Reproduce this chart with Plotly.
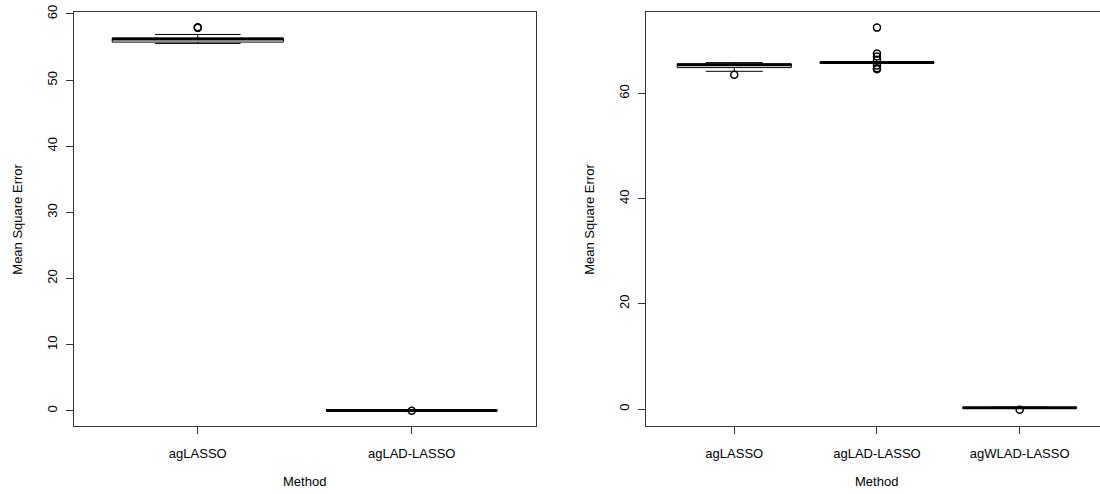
import plotly.graph_objects as go

# ---- data ----
methods_left = ["agLASSO", "agLAD-LASSO"]
left_q1 = [55.75, 0.03]
left_median = [56.2, 0.05]
left_q3 = [56.35, 0.07]
left_lower = [55.55, 0.02]
left_upper = [56.9, 0.08]
left_outliers = [[58.0, 57.9], [0.0]]

methods_right = ["agLASSO", "agLAD-LASSO", "agWLAD-LASSO"]
right_q1 = [64.9, 65.75, 0.2]
right_median = [65.45, 65.85, 0.25]
right_q3 = [65.6, 65.9, 0.3]
right_lower = [64.2, 65.7, 0.15]
right_upper = [65.85, 65.95, 0.35]
right_outliers = [[63.55], [72.5, 67.6, 67.0, 66.4, 65.3, 64.8, 64.6], [-0.15]]

left_yticks = [0, 10, 20, 30, 40, 50, 60]
right_yticks = [0, 20, 40, 60]

FONT = "Liberation Sans, Arial, sans-serif"
FS = 13
BOXW = 0.8
FRAME = "#333333"

fig = go.Figure()


def add_panel(methods, q1, med, q3, lo, hi, outs, xa, ya):
    pos = list(range(1, len(methods) + 1))
    for i, p in enumerate(pos):
        fig.add_trace(go.Box(
            x=[p], q1=[q1[i]], median=[med[i]], q3=[q3[i]],
            lowerfence=[lo[i]], upperfence=[hi[i]],
            width=BOXW, whiskerwidth=0.5, boxpoints=False,
            fillcolor="white", line=dict(color="black", width=1),
            xaxis=xa, yaxis=ya, showlegend=False, hoverinfo="skip"))
        # thick median line (R style)
        fig.add_trace(go.Scatter(
            x=[p - BOXW / 2, p + BOXW / 2], y=[med[i], med[i]],
            mode="lines", line=dict(color="black", width=3),
            xaxis=xa, yaxis=ya, showlegend=False, hoverinfo="skip"))
        fig.add_trace(go.Scatter(
            x=[p] * len(outs[i]), y=outs[i], mode="markers",
            marker=dict(symbol="circle-open", size=7, color="black",
                        line=dict(width=1.5)),
            xaxis=xa, yaxis=ya, showlegend=False, hoverinfo="skip"))


add_panel(methods_left, left_q1, left_median, left_q3, left_lower,
          left_upper, left_outliers, "x", "y")
add_panel(methods_right, right_q1, right_median, right_q3, right_lower,
          right_upper, right_outliers, "x2", "y2")

W, H = 1100, 494
axis_common = dict(showgrid=False, zeroline=False, showline=True,
                   linecolor=FRAME, linewidth=1, ticks="outside",
                   ticklen=7, tickcolor=FRAME, tickwidth=1,
                   tickfont=dict(family=FONT, size=FS, color="black"))

fig.update_layout(
    width=W, height=H,
    margin=dict(l=0, r=0, t=12, b=68),
    paper_bgcolor="white", plot_bgcolor="white",
    font=dict(family=FONT, size=FS, color="black"),
    xaxis=dict(domain=[73.7 / W, 535.8 / W], range=[0.42, 2.58],
               tickvals=[1, 2], ticktext=methods_left, mirror=True,
               ticklabelstandoff=8, **axis_common),
    yaxis=dict(domain=[0, 1], range=[-2.31, 60.3], tickvals=left_yticks,
               tickangle=-90, mirror=True, ticklabelstandoff=4,
               **axis_common),
    xaxis2=dict(domain=[645.8 / W, 1.0], range=[0.38, 3.563],
                tickvals=[1, 2, 3], ticktext=methods_right, mirror=True,
                anchor="y2", ticklabelstandoff=8, **axis_common),
    yaxis2=dict(domain=[0, 1], range=[-3.23, 75.47], tickvals=right_yticks,
                tickangle=-90, mirror=False, anchor="x2",
                ticklabelstandoff=4, **axis_common),
)

# axis titles
for xc, yc in [((73.7 + 535.8) / 2 / W, (73.7 - 57) / W),
               ((645.8 + 1108) / 2 / W, (645.8 - 57) / W)]:
    fig.add_annotation(text="Method", x=xc, y=-(481.7 - 426) / (H - 80),
                       xref="paper", yref="paper", showarrow=False,
                       xanchor="center", yanchor="middle",
                       font=dict(family=FONT, size=FS, color="black"))
    fig.add_annotation(text="Mean Square Error", x=yc, y=0.5 + (219 - 219) / H,
                       xref="paper", yref="paper", showarrow=False,
                       textangle=-90, xanchor="center", yanchor="middle",
                       font=dict(family=FONT, size=FS, color="black"))

fig.write_html("out.html")
